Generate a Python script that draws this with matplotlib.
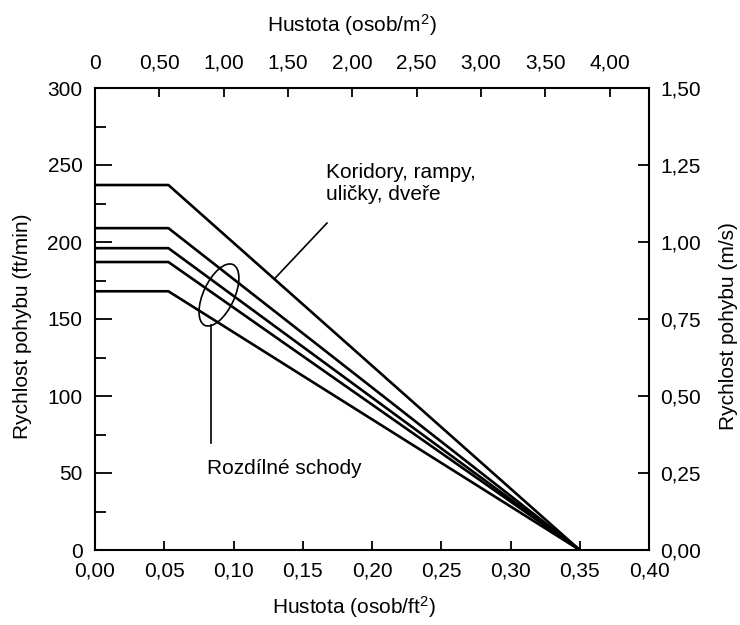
import numpy as np
import matplotlib.pyplot as plt
from matplotlib.patches import Ellipse
from matplotlib import transforms

plt.rcParams['font.family'] = ['Liberation Sans', 'DejaVu Sans']
plt.rcParams['font.size'] = 15
plt.rcParams['mathtext.fontset'] = 'custom'
plt.rcParams['mathtext.rm'] = 'Liberation Sans'
plt.rcParams['mathtext.it'] = 'Liberation Sans:italic'

# density (persons/ft2) at the breakpoints of each curve
density_ft2 = [0.0, 0.053, 0.35]
# speed (ft/min): constant plateau, then falling to zero
corridor_speed = [237, 237, 0]
stair_speeds = [
    [209, 209, 0],
    [196, 196, 0],
    [187, 187, 0],
    [168, 168, 0],
]

bottom_ticks = [0.0, 0.05, 0.10, 0.15, 0.20, 0.25, 0.30, 0.35, 0.40]
top_ticks = [0.0, 0.5, 1.0, 1.5, 2.0, 2.5, 3.0, 3.5, 4.0]
left_ticks = [0, 50, 100, 150, 200, 250, 300]
right_ticks = [0.0, 0.25, 0.50, 0.75, 1.00, 1.25, 1.50]

FT2_PER_M2 = 10.764   # persons/ft2 -> persons/m2
MS_PER_FTMIN = 1.5 / 300.0


def comma(v, nd=2):
    return f'{v:.{nd}f}'.replace('.', ',')


fig = plt.figure(figsize=(7.4, 6.25), dpi=100)
ax = fig.add_axes([95 / 740, 1 - 550 / 625, 554 / 740, 462 / 625])

lw = 1.9
ax.plot(density_ft2, corridor_speed, color='black', lw=lw)
for s in stair_speeds:
    ax.plot(density_ft2, s, color='black', lw=lw)

ax.set_xlim(0, 0.40)
ax.set_ylim(0, 300)
for sp in ax.spines.values():
    sp.set_linewidth(1.5)

ax.set_xticks(bottom_ticks)
ax.set_xticklabels([comma(t) for t in bottom_ticks])
ax.set_yticks(left_ticks)
ax.set_yticklabels([str(t) for t in left_ticks])
ax.set_yticks(np.arange(25, 300, 50), minor=True)
ax.tick_params(axis='x', direction='in', length=6.5, width=1.3, pad=8)
ax.tick_params(axis='y', which='major', direction='in', length=12.5, width=1.3, pad=9)
ax.tick_params(axis='y', which='minor', direction='in', length=8, width=1.3)

top = ax.secondary_xaxis('top', functions=(lambda x: x * FT2_PER_M2,
                                           lambda x: x / FT2_PER_M2))
top.set_xticks(top_ticks)
top.set_xticklabels(['0'] + [comma(t) for t in top_ticks[1:]])
top.tick_params(direction='in', length=6.5, width=1.3, pad=11)
top.spines['top'].set_linewidth(1.3)

right = ax.secondary_yaxis('right', functions=(lambda y: y * MS_PER_FTMIN,
                                               lambda y: y / MS_PER_FTMIN))
right.set_yticks(right_ticks)
right.set_yticklabels([comma(t) for t in right_ticks])
right.tick_params(direction='in', length=8, width=1.3, pad=8)
right.spines['right'].set_linewidth(1.3)

# axis titles
fig.text(23 / 740, 1 - 326 / 625, 'Rychlost pohybu (ft/min)', rotation=90,
         ha='center', va='center')
fig.text(728 / 740, 1 - 326 / 625, 'Rychlost pohybu (m/s)', rotation=90,
         ha='center', va='center')
fig.text(354 / 740, 1 - 607 / 625, r'Hustota (osob/ft$^{\mathrm{2}}$)',
         ha='center', va='center')
fig.text(352 / 740, 1 - 25 / 625, r'Hustota (osob/m$^{\mathrm{2}}$)',
         ha='center', va='center')

# annotations
ax.text(0.1665, 251, 'Koridory, rampy,\nuličky, dveře', ha='left', va='top',
        linespacing=1.2)
ax.plot([0.1675, 0.130], [212.3, 176.5], color='black', lw=1.2)

ell_trans = fig.dpi_scale_trans + transforms.ScaledTranslation(0.0895, 165.6, ax.transData)
ax.add_patch(Ellipse((0, 0), 0.31, 0.67, angle=-25, fill=False, lw=1.2,
                     edgecolor='black', transform=ell_trans))
ax.plot([0.0838, 0.0838], [146, 69.5], color='black', lw=1.2)
ax.text(0.0808, 49.4, 'Rozdílné schody', ha='left', va='baseline')

fig.savefig('out.png', dpi=100)
